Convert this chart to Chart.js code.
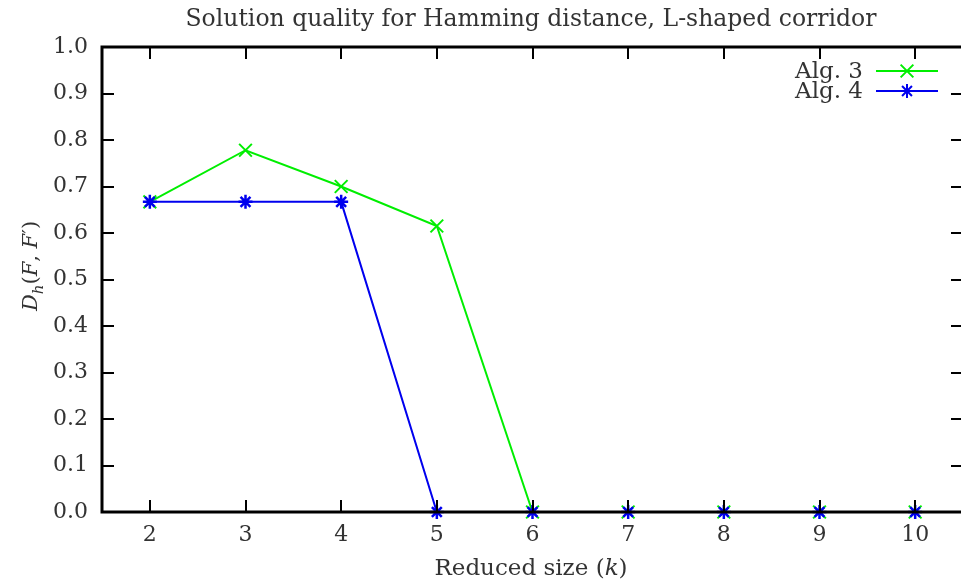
<!DOCTYPE html>
<html lang="en">
<head>
  <meta charset="UTF-8">
  <title>Solution quality for Hamming distance</title>
  <style>
    html, body { margin: 0; padding: 0; background: #fff; overflow: hidden; }
    #wrap { width: 974px; height: 585px; }
  </style>
  <script src="https://cdn.jsdelivr.net/npm/chart.js"></script>
</head>
<body>
  <div id="wrap"><canvas id="chart" width="974" height="585"></canvas></div>
  <script>
    // data
    const sizes = [2, 3, 4, 5, 6, 7, 8, 9, 10];
    const alg3 = [0.667, 0.778, 0.700, 0.615, 0, 0, 0, 0, 0];
    const alg4 = [0.667, 0.667, 0.667, 0, 0, 0, 0, 0, 0];
    const xTicks = [2, 3, 4, 5, 6, 7, 8, 9, 10];
    const yTicks = [0, 0.1, 0.2, 0.3, 0.4, 0.5, 0.6, 0.7, 0.8, 0.9, 1.0];

    const FONT = 'DejaVu Serif';
    const TXT = '#333333';

    function pts(vals) {
      return sizes.map((k, i) => ({ x: k, y: vals[i] }));
    }

    // frame + inward ticks on all four sides, drawn over the data like gnuplot
    const framePlugin = {
      id: 'frame',
      afterDatasetsDraw(chart) {
        const { ctx, chartArea: a, scales } = chart;
        ctx.save();
        ctx.strokeStyle = '#000';
        ctx.lineWidth = 2;
        const t = 12;
        ctx.beginPath();
        xTicks.forEach(v => {
          const x = Math.round(scales.x.getPixelForValue(v));
          ctx.moveTo(x, a.bottom); ctx.lineTo(x, a.bottom - t);
          ctx.moveTo(x, a.top); ctx.lineTo(x, a.top + t);
        });
        yTicks.forEach(v => {
          const y = Math.round(scales.y.getPixelForValue(v));
          ctx.moveTo(a.left, y); ctx.lineTo(a.left + t, y);
          ctx.moveTo(a.right, y); ctx.lineTo(a.right - t, y);
        });
        ctx.stroke();
        ctx.lineWidth = 3;
        ctx.strokeRect(a.left, a.top, a.right - a.left, a.bottom - a.top);
        ctx.restore();
      }
    };

    // draws a run of text pieces, some italic, some small (subscript)
    function drawPieces(ctx, pieces, x, y, size, align) {
      const fontOf = p => (p.it ? 'italic ' : '') + (p.sub ? size * 0.72 : size) + 'px "' + FONT + '"';
      const widths = pieces.map(p => {
        ctx.font = fontOf(p);
        return ctx.measureText(p.s).width;
      });
      const total = widths.reduce((s, w) => s + w, 0);
      let cx = align === 'center' ? x - total / 2 : (align === 'right' ? x - total : x);
      pieces.forEach((p, i) => {
        ctx.font = fontOf(p);
        ctx.fillText(p.s, cx, y + (p.sub ? size * 0.3 : 0));
        cx += widths[i];
      });
    }

    const textPlugin = {
      id: 'texts',
      afterDraw(chart) {
        const { ctx } = chart;
        const mid = 531;
        ctx.save();
        ctx.fillStyle = TXT;
        ctx.textAlign = 'left';
        ctx.textBaseline = 'alphabetic';
        drawPieces(ctx, [{ s: 'Solution quality for Hamming distance, L-shaped corridor' }], mid, 26, 23.5, 'center');
        drawPieces(ctx, [{ s: 'Reduced size (' }, { s: 'k', it: true }, { s: ')' }], mid, 575, 23, 'center');

        ctx.translate(37, 266);
        ctx.rotate(-Math.PI / 2);
        drawPieces(ctx, [
          { s: 'D', it: true }, { s: 'h', it: true, sub: true }, { s: '(' },
          { s: 'F', it: true }, { s: ', ' }, { s: 'F', it: true }, { s: '\u2032)' }
        ], 0, 0, 21, 'center');
        ctx.restore();

        // legend, gnuplot style: text then sample line with marker
        ctx.save();
        const rows = [
          { label: 'Alg. 3', ds: chart.data.datasets[0], y: 71 },
          { label: 'Alg. 4', ds: chart.data.datasets[1], y: 91 }
        ];
        rows.forEach(r => {
          ctx.fillStyle = TXT;
          ctx.font = '23px "' + FONT + '"';
          ctx.textAlign = 'right';
          ctx.textBaseline = 'middle';
          ctx.fillText(r.label, 863, r.y + 1);
          ctx.strokeStyle = r.ds.borderColor;
          ctx.lineWidth = 2;
          ctx.beginPath();
          ctx.moveTo(876, r.y); ctx.lineTo(938, r.y);
          ctx.stroke();
          Chart.helpers.drawPoint(ctx, {
            pointStyle: r.ds.pointStyle, radius: r.ds.pointRadius,
            borderWidth: 2, rotation: 0
          }, 907, r.y);
        });
        ctx.restore();
      }
    };

    const ctx = document.getElementById('chart').getContext('2d');
    const chart = new Chart(ctx, {
      type: 'line',
      data: {
        datasets: [{
          label: 'Alg. 3',
          data: pts(alg3),
          order: 2,
          borderColor: '#00ee00',
          backgroundColor: '#00ee00',
          borderWidth: 2,
          pointStyle: 'crossRot',
          pointRadius: 9,
          pointBorderWidth: 2,
          pointBorderColor: '#00ee00',
          tension: 0,
          clip: false
        }, {
          label: 'Alg. 4',
          data: pts(alg4),
          order: 1,
          borderColor: '#0000ee',
          backgroundColor: '#0000ee',
          borderWidth: 2,
          pointStyle: 'star',
          pointRadius: 7,
          pointBorderWidth: 2.5,
          pointBorderColor: '#0000ee',
          tension: 0,
          clip: false
        }]
      },
      options: {
        responsive: false,
        animation: false,
        events: [],
        layout: { padding: { left: 0, right: 4, top: 47, bottom: 0 } },
        plugins: {
          legend: { display: false },
          title: { display: false },
          tooltip: { enabled: false }
        },
        scales: {
          x: {
            type: 'linear',
            min: 1.5,
            max: 10.5,
            grid: { display: false, drawTicks: false },
            border: { display: false },
            afterBuildTicks: s => { s.ticks = xTicks.map(v => ({ value: v })); },
            afterFit: s => { s.height = 73; },
            ticks: {
              padding: 10,
              color: TXT,
              maxRotation: 0,
              font: { family: FONT, size: 22 },
              callback: v => String(v)
            }
          },
          y: {
            min: 0,
            max: 1,
            grid: { display: false, drawTicks: false },
            border: { display: false },
            afterBuildTicks: s => { s.ticks = yTicks.map(v => ({ value: v })); },
            afterFit: s => { s.width = 102; },
            ticks: {
              padding: 14,
              color: TXT,
              font: { family: FONT, size: 22 },
              callback: v => v.toFixed(1)
            }
          }
        }
      },
      plugins: [framePlugin, textPlugin]
    });
  </script>
</body>
</html>
